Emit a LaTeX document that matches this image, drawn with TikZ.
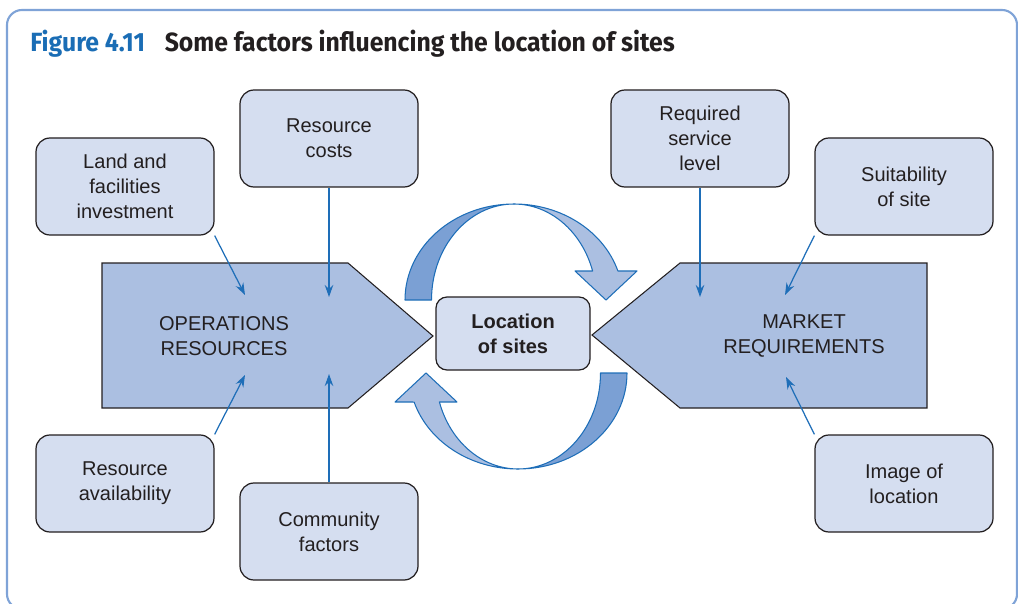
\documentclass[tikz,border=0pt]{standalone}
\usepackage{fontspec}
\setmainfont{Liberation Sans}
\newfontfamily\titlefont[FakeStretch=0.94]{Fira Sans}
\usetikzlibrary{arrows.meta}

\definecolor{framebl}{HTML}{7FA3D7}
\definecolor{titlebl}{HTML}{1A6DB5}
\definecolor{inkgr}{HTML}{231F20}
\definecolor{sidebl}{HTML}{ABBFE1}
\definecolor{boxbl}{HTML}{D5DEF0}
\definecolor{linebl}{HTML}{1E6EB8}
\definecolor{darkbl}{HTML}{7BA0D4}

\tikzset{
  cyclearrow/.pic={
    % back half (tail)
    \filldraw[fill=darkbl, draw=linebl, line width=0.6pt, line join=round]
      (-2.18,0) arc[start angle=180, end angle=90, x radius=2.18, y radius=1.92]
      arc[start angle=90, end angle=180, x radius=1.65, y radius=1.92] -- cycle;
    % front half (head)
    \filldraw[fill=sidebl, draw=linebl, line width=0.6pt, line join=round]
      (0,1.92) arc[start angle=90, end angle=17.6, x radius=2.18, y radius=1.92]
      -- (2.46,0.58) -- (1.84,0) -- (1.22,0.58) -- (1.572,0.58)
      arc[start angle=17.6, end angle=90, x radius=1.65, y radius=1.92] -- cycle;
  }
}

\begin{document}
\begin{tikzpicture}[
factor/.style={draw=inkgr, fill=boxbl, line width=0.7pt, rounded corners=0.28cm,
  minimum width=3.56cm, minimum height=1.94cm, align=center, text=inkgr,
  font=\fontsize{11.4}{14.2}\selectfont},
hub/.style={draw=inkgr, fill=boxbl, line width=0.7pt, rounded corners=0.22cm,
  minimum width=3.08cm, minimum height=1.46cm, align=center, text=inkgr,
  font=\fontsize{11.4}{14.2}\selectfont\bfseries},
sidearrow/.style={draw=inkgr, fill=sidebl, line width=0.6pt},
sidetext/.style={align=center, text=inkgr, font=\fontsize{11.4}{14.2}\selectfont},
feed/.style={draw=linebl, line width=0.7pt, -{Stealth[length=2.4mm, width=1.7mm]}}
]
\useasboundingbox (0,0) rectangle (20.36,12.06);

% frame and title
\draw[framebl, line width=1.2pt, rounded corners=0.3cm] (0.14,-0.12) rectangle (20.34,11.86);
\node[anchor=base west, inner sep=0, text=inkgr] (title) at (0.6,11.03)
  {\titlefont\fontsize{15}{18}\selectfont\bfseries\textcolor{titlebl}{Figure 4.11}\hspace{0.75em}Some factors influencing the location of sites};

% ---------- LEFT: OPERATIONS ----------
\filldraw[sidearrow] (2.04,6.8) -- (6.96,6.8) -- (8.66,5.34) -- (6.96,3.9) -- (2.04,3.9) -- cycle;
\node[sidetext] (ops) at (4.48,5.34) {OPERATIONS\\RESOURCES};

% ---------- RIGHT: MARKET ----------
\filldraw[sidearrow] (11.84,5.36) -- (13.6,6.8) -- (18.54,6.8) -- (18.54,3.9) -- (13.6,3.9) -- cycle;
\node[sidetext] (market) at (16.08,5.34) {MARKET\\REQUIREMENTS};

% ---------- CENTRE ----------
\pic at (10.28,6.06) {cyclearrow};
\pic[rotate=180] at (10.36,4.60) {cyclearrow};
\node[hub] (site) at (10.26,5.39) {Location\\of sites};

% factors
\node[factor] (land) at (2.5,8.33) {Land and\\facilities\\investment};
\node[factor] (costs) at (6.58,9.29) {Resource\\costs};
\node[factor] (avail) at (2.5,2.39) {Resource\\availability};
\node[factor] (comm) at (6.58,1.43) {Community\\factors};
\node[factor] (service) at (14.0,9.29) {Required\\service\\level};
\node[factor] (suit) at (18.08,8.33) {Suitability\\of site};
\node[factor] (image) at (18.08,2.39) {Image of\\location};

% arrow ends inside the side arrows
\coordinate (land-in) at (4.9,6.16);
\coordinate (costs-in) at (6.58,6.12);
\coordinate (avail-in) at (4.9,4.56);
\coordinate (comm-in) at (6.58,4.58);
\coordinate (service-in) at (14.0,6.12);
\coordinate (suit-in) at (15.7,6.16);
\coordinate (image-in) at (15.72,4.52);

% connections
\draw[feed] (land.south east) -- (land-in);
\draw[feed] (costs.south) -- (costs-in);
\draw[feed] (avail.north east) -- (avail-in);
\draw[feed] (comm.north) -- (comm-in);
\draw[feed] (service.south) -- (service-in);
\draw[feed] (suit.south west) -- (suit-in);
\draw[feed] (image.north west) -- (image-in);

\end{tikzpicture}
\end{document}
